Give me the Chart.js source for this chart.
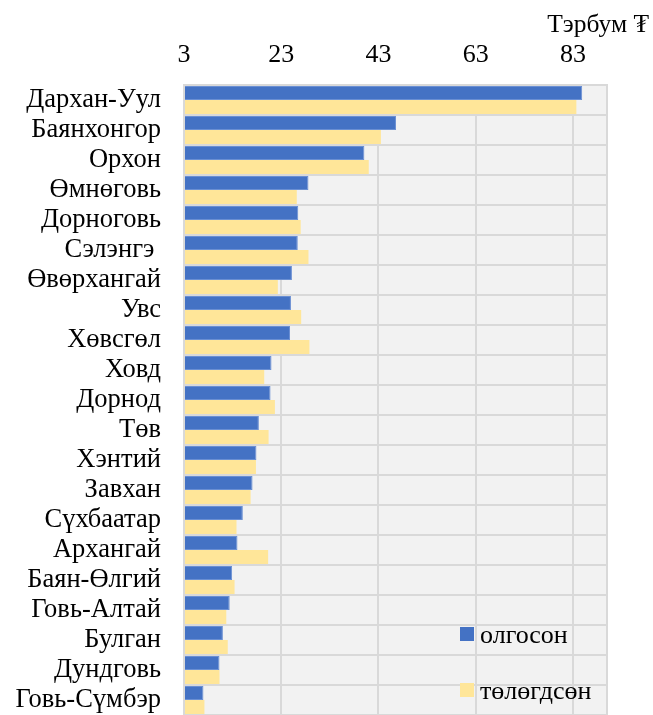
<!DOCTYPE html>
<html>
<head>
<meta charset="utf-8">
<script src="https://cdn.jsdelivr.net/npm/chart.js@4"></script>
<style>
  html, body { margin: 0; padding: 0; background: #fff; overflow: hidden; }
  #wrap { width: 653px; height: 715px; }
  canvas { display: block; }
</style>
</head>
<body>
<div id="wrap"><canvas id="aimagChart" width="653" height="715"></canvas></div>
<script>
// aimag names, top to bottom
const aimags = [
    'Дархан-Уул', 'Баянхонгор', 'Орхон', 'Өмнөговь', 'Дорноговь', 'Сэлэнгэ ',
    'Өвөрхангай', 'Увс', 'Хөвсгөл', 'Ховд', 'Дорнод', 'Төв', 'Хэнтий', 'Завхан',
    'Сүхбаатар', 'Архангай', 'Баян-Өлгий', 'Говь-Алтай', 'Булган', 'Дундговь', 'Говь-Сүмбэр'
];
// олгосон (issued)
const olgoson = [
    84.9, 46.6, 40.1, 28.6, 26.5, 26.4, 25.2, 25.0, 24.8, 21.0, 20.8,
    18.4, 17.9, 17.1, 15.1, 14.0, 12.9, 12.4, 11.0, 10.3, 7.0
];
// төлөгдсөн (repaid)
const tolugdson = [
    83.7, 43.5, 41.0, 26.2, 27.0, 28.6, 22.3, 27.1, 28.8, 19.5, 21.7,
    20.4, 17.8, 16.7, 13.8, 20.3, 13.4, 11.7, 12.0, 10.3, 7.2
];
const seriesNames = ['олгосон', 'төлөгдсөн'];
const xTickValues = [3, 23, 43, 63, 83];
const unitLabel = 'Тэрбум ₮';

const FONT = "'Liberation Serif', 'Times New Roman', serif";
const GRID = '#d9d9d9';

// plot background + border
const plotBg = {
    id: 'plotBg',
    beforeDraw(chart) {
        const { ctx, chartArea: a } = chart;
        ctx.save();
        ctx.fillStyle = '#f2f2f2';
        ctx.fillRect(a.left, a.top, a.right - a.left, a.bottom - a.top);
        ctx.restore();
    },
    afterDraw(chart) {
        const { ctx, chartArea: a } = chart;
        ctx.save();
        ctx.strokeStyle = GRID;
        ctx.lineWidth = 2;
        ctx.strokeRect(a.left, a.top, a.right - a.left, a.bottom - a.top);
        ctx.restore();
    }
};

// unit text top right + legend inside plot
const extras = {
    id: 'extras',
    afterDraw(chart) {
        const { ctx, chartArea: a } = chart;
        ctx.save();
        ctx.font = '25.5px ' + FONT;
        ctx.fillStyle = '#000';
        ctx.textAlign = 'right';
        ctx.textBaseline = 'alphabetic';
        ctx.fillText(unitLabel, chart.width - 4, 32);

        ctx.font = '26px ' + FONT;
        ctx.textAlign = 'left';
        ctx.textBaseline = 'middle';
        chart.data.datasets.forEach((ds, i) => {
            const y = a.top + 549 + i * 56;
            const x = a.left + 276;
            ctx.fillStyle = ds.backgroundColor;
            ctx.fillRect(x, y - 7, 14, 14);
            ctx.fillStyle = '#000';
            ctx.fillText(ds.label, x + 20, y + 2);
        });
        ctx.restore();
    }
};

new Chart(document.getElementById('aimagChart'), {
    type: 'bar',
    data: {
        labels: aimags,
        datasets: [
            {
                label: seriesNames[0],
                data: olgoson,
                backgroundColor: '#4472c4',
                borderColor: '#6a8fd3',
                borderWidth: 1,
                barPercentage: 1.0,
                categoryPercentage: 0.93
            },
            {
                label: seriesNames[1],
                data: tolugdson,
                backgroundColor: '#ffe699',
                borderWidth: 0,
                barPercentage: 1.0,
                categoryPercentage: 0.93
            }
        ]
    },
    plugins: [plotBg, extras],
    options: {
        indexAxis: 'y',
        responsive: false,
        animation: false,
        layout: { padding: { left: 0, right: 46, top: 0, bottom: 0 } },
        plugins: {
            legend: { display: false },
            tooltip: { enabled: false }
        },
        scales: {
            x: {
                position: 'top',
                min: 3,
                max: 90,
                afterBuildTicks: s => { s.ticks = xTickValues.map(v => ({ value: v })); },
                afterFit: s => { s.height = 85; s.paddingLeft = 0; s.paddingRight = 0; },
                grid: { color: GRID, lineWidth: 2, drawTicks: false },
                border: { display: false },
                ticks: {
                    color: '#000',
                    padding: 14,
                    font: { family: FONT, size: 26 }
                }
            },
            y: {
                afterFit: s => { s.width = 184; s.paddingTop = 0; s.paddingBottom = 0; },
                grid: { color: GRID, lineWidth: 2, drawTicks: false, offset: true },
                border: { display: false },
                ticks: {
                    color: '#000',
                    padding: 23,
                    autoSkip: false,
                    font: { family: FONT, size: 26.5 }
                }
            }
        }
    }
});
</script>
</body>
</html>
